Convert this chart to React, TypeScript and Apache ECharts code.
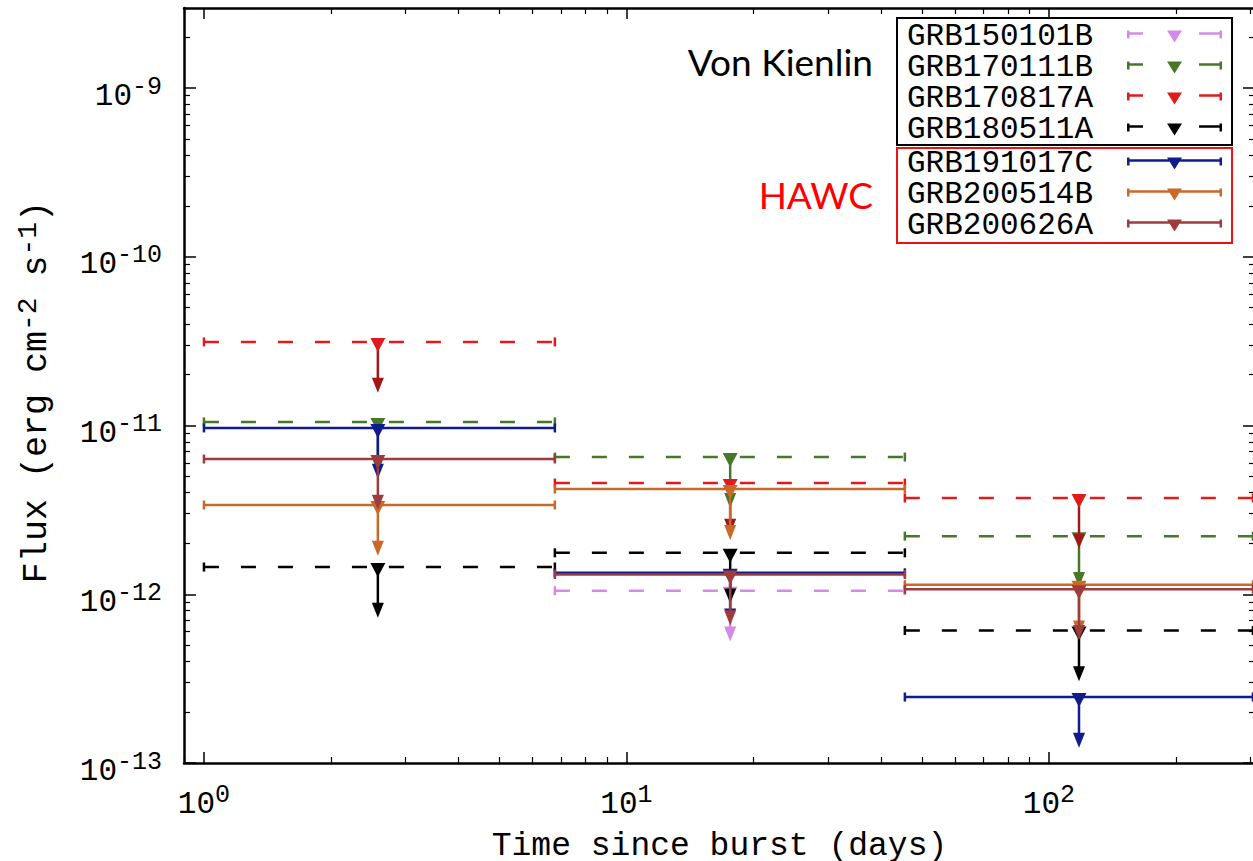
import { useEffect, useRef } from 'react';
import * as echarts from 'echarts';

// ---- data ----
const binLo = [1, 6.77, 45.6];
const binHi = [6.77, 45.6, 304];
const binMid = [2.58, 17.6, 117.8];

const grbNames = ['GRB150101B', 'GRB170111B', 'GRB170817A', 'GRB180511A', 'GRB191017C', 'GRB200514B', 'GRB200626A'];
const grb150101B = [null, 1.05e-12, null];
const grb170111B = [1.05e-11, 6.5e-12, 2.21e-12];
const grb170817A = [3.13e-11, 4.56e-12, 3.72e-12];
const grb180511A = [1.45e-12, 1.76e-12, 6.1e-13];
const grb191017C = [9.67e-12, 1.34e-12, 2.46e-13];
const grb200514B = [3.38e-12, 4.2e-12, 1.14e-12];
const grb200626A = [6.33e-12, 1.31e-12, 1.07e-12];
const fluxSets = [grb150101B, grb170111B, grb170817A, grb180511A, grb191017C, grb200514B, grb200626A];

const vonKienlinGroup = ['GRB150101B', 'GRB170111B', 'GRB170817A', 'GRB180511A'];
const hawcGroup = ['GRB191017C', 'GRB200514B', 'GRB200626A'];

const xMajorExponents = [0, 1, 2];
const yMajorExponents = [-13, -12, -11, -10, -9];
const X_MIN_DAYS = 0.897;
const X_MAX_DAYS = 307.4;
const Y_MIN_FLUX = 1e-13;
const Y_MAX_FLUX = 2.98e-9;

// ---- styles ----
const colors = ['#d58ae8', '#467828', '#e01b1b', '#000000', '#101c8e', '#c8692a', '#9e3b3d'];
const arrowColors = ['#d58ae8', '#467828', '#a01818', '#000000', '#101c8e', '#c8692a', '#9e3b3d'];
const dashedFlags = [true, true, true, true, false, false, false];
const MONO = 'Liberation Mono';

const iconDashed =
  'path://M0 0L2.5 0L2.5 8L0 8Z M0 1.75L16 1.75L16 4.25L0 4.25Z M40 0L55 0L47.5 12Z M72 1.75L95 1.75L95 4.25L72 4.25Z M92.5 0L95 0L95 8L92.5 8Z';
const iconSolid =
  'path://M0 0L2.5 0L2.5 8L0 8Z M0 1.75L95 1.75L95 4.25L0 4.25Z M40 0L55 0L47.5 12Z M92.5 0L95 0L95 8L92.5 8Z';

const lg = Math.log10;

function minorTicks(minLog: number, maxLog: number) {
  const out: number[] = [];
  for (let n = Math.floor(minLog) - 1; n <= Math.ceil(maxLog); n++) {
    for (let k = 2; k <= 9; k++) {
      const v = n + lg(k);
      if (v > minLog && v < maxLog) out.push(v);
    }
  }
  return out;
}

export default function App() {
  const ref = useRef<HTMLDivElement>(null);

  useEffect(() => {
    document.documentElement.style.margin = '0';
    document.documentElement.style.padding = '0';
    document.documentElement.style.overflow = 'hidden';
    document.body.style.margin = '0';
    document.body.style.padding = '0';
    document.body.style.overflow = 'hidden';
    if (!ref.current) return;
    const chart = echarts.init(ref.current, null, { renderer: 'svg' });

    const xMin = lg(X_MIN_DAYS);
    const xMax = lg(X_MAX_DAYS);
    const yMin = lg(Y_MIN_FLUX);
    const yMax = lg(Y_MAX_FLUX);
    const xMinor = minorTicks(xMin, xMax);
    const yMinor = minorTicks(yMin, yMax);

    const supStyle = {
      fontFamily: MONO,
      fontSize: 25,
      color: '#000',
      lineHeight: 20,
      padding: [0, 0, 18, 0],
      verticalAlign: 'middle',
    };
    const tickRich = {
      b: { fontFamily: MONO, fontSize: 31, color: '#000', lineHeight: 40, verticalAlign: 'middle' },
      s: supStyle,
    };

    const baseX = {
      type: 'value',
      min: xMin,
      max: xMax,
      splitLine: { show: false },
    };
    const baseY = {
      type: 'value',
      min: yMin,
      max: yMax,
      splitLine: { show: false },
    };

    const xAxes = [
      {
        ...baseX,
        position: 'bottom',
        axisLine: { onZero: false, lineStyle: { color: '#000', width: 2.5 } },
        axisTick: { inside: true, length: 11, customValues: xMajorExponents, lineStyle: { color: '#000', width: 1.5 } },
        axisLabel: {
          customValues: xMajorExponents,
          margin: 21,
          formatter: (v: number) => `{b|10}{s|${Math.round(v)}}`,
          rich: tickRich,
        },
        name: 'Time since burst (days)',
        nameLocation: 'middle',
        nameGap: 62,
        nameTextStyle: { fontFamily: MONO, fontSize: 33, color: '#000' },
      },
      {
        ...baseX,
        position: 'bottom',
        axisLine: { show: false, onZero: false },
        axisTick: { inside: true, length: 6, customValues: xMinor, lineStyle: { color: '#000', width: 1.2 } },
        axisLabel: { show: false },
      },
      {
        ...baseX,
        position: 'top',
        axisLine: { onZero: false, lineStyle: { color: '#000', width: 2.5 } },
        axisTick: { inside: true, length: 11, customValues: xMajorExponents, lineStyle: { color: '#000', width: 1.5 } },
        axisLabel: { show: false },
      },
      {
        ...baseX,
        position: 'top',
        axisLine: { show: false, onZero: false },
        axisTick: { inside: true, length: 6, customValues: xMinor, lineStyle: { color: '#000', width: 1.2 } },
        axisLabel: { show: false },
      },
    ];

    const yAxes = [
      {
        ...baseY,
        position: 'left',
        axisLine: { onZero: false, lineStyle: { color: '#000', width: 2.5 } },
        axisTick: { inside: true, length: 12, customValues: yMajorExponents, lineStyle: { color: '#000', width: 1.5 } },
        axisLabel: {
          customValues: yMajorExponents,
          margin: 22,
          padding: [16, 0, 0, 0],
          formatter: (v: number) => `{b|10}{s|${Math.round(v)}}`,
          rich: tickRich,
        },
        name: 'Flux (erg cm{s|-2} s{s|-1}){sp| }',
        nameLocation: 'middle',
        nameRotate: 90,
        nameGap: 127,
        nameTextStyle: {
          fontFamily: MONO,
          fontSize: 35,
          color: '#000',
          lineHeight: 40,
          rich: {
            s: { ...supStyle, fontSize: 28 },
            sp: { fontFamily: MONO, fontSize: 10, width: 13, lineHeight: 40 },
          },
        },
      },
      {
        ...baseY,
        position: 'left',
        axisLine: { show: false, onZero: false },
        axisTick: { inside: true, length: 6, customValues: yMinor, lineStyle: { color: '#000', width: 1.2 } },
        axisLabel: { show: false },
      },
      {
        ...baseY,
        position: 'right',
        axisLine: { onZero: false, lineStyle: { color: '#000', width: 2.5 } },
        axisTick: { inside: true, length: 12, customValues: yMajorExponents, lineStyle: { color: '#000', width: 1.5 } },
        axisLabel: { show: false },
      },
      {
        ...baseY,
        position: 'right',
        axisLine: { show: false, onZero: false },
        axisTick: { inside: true, length: 6, customValues: yMinor, lineStyle: { color: '#000', width: 1.2 } },
        axisLabel: { show: false },
      },
    ];

    const series = grbNames.map((name, si) => {
      const color = colors[si];
      const arrowColor = arrowColors[si];
      const dashed = dashedFlags[si];
      const data: number[][] = [];
      fluxSets[si].forEach((f, i) => {
        if (f == null) return;
        data.push([lg(binLo[i]), lg(binHi[i]), lg(binMid[i]), lg(f), lg(f / 2)]);
      });
      return {
        type: 'custom',
        name,
        xAxisIndex: 0,
        yAxisIndex: 0,
        itemStyle: { color },
        data,
        encode: { x: [0, 1, 2], y: [3, 4] },
        renderItem: (_params: any, api: any) => {
          const yv = api.value(3);
          const pL = api.coord([api.value(0), yv]);
          const pR = api.coord([api.value(1), yv]);
          const pM = api.coord([api.value(2), yv]);
          const pT = api.coord([api.value(2), api.value(4)]);
          const lw = 2.5;
          const cx = pM[0];
          const cy = pM[1];
          const ty = pT[1];
          return {
            type: 'group',
            children: [
              {
                type: 'line',
                shape: { x1: pL[0], y1: pL[1], x2: pR[0], y2: pR[1] },
                style: { stroke: color, lineWidth: lw, lineDash: dashed ? [15, 22] : null, fill: null },
              },
              {
                type: 'line',
                shape: { x1: pL[0], y1: cy - 4.5, x2: pL[0], y2: cy + 4.5 },
                style: { stroke: color, lineWidth: lw },
              },
              {
                type: 'line',
                shape: { x1: pR[0], y1: cy - 4.5, x2: pR[0], y2: cy + 4.5 },
                style: { stroke: color, lineWidth: lw },
              },
              {
                type: 'line',
                shape: { x1: cx, y1: cy, x2: cx, y2: ty - 13 },
                style: { stroke: arrowColor, lineWidth: lw },
              },
              {
                type: 'polygon',
                shape: { points: [[cx - 6, ty - 15], [cx + 6, ty - 15], [cx, ty]] },
                style: { fill: arrowColor },
              },
              {
                type: 'polygon',
                shape: { points: [[cx - 7.5, cy - 4], [cx + 7.5, cy - 4], [cx, cy + 10]] },
                style: { fill: color },
              },
            ],
          };
        },
      };
    });

    const legendCommon = {
      orient: 'vertical',
      align: 'right',
      left: 897,
      itemGap: 0,
      itemWidth: 95,
      itemHeight: 12,
      borderWidth: 2,
      selectedMode: false,
      textStyle: { fontFamily: MONO, fontSize: 31, color: '#000', lineHeight: 31, padding: [0, 29, 0, 0] },
    };
    const iconFor = (n: string) => (dashedFlags[grbNames.indexOf(n)] ? iconDashed : iconSolid);

    chart.setOption({
      animation: false,
      backgroundColor: '#fff',
      grid: { left: 184, right: -2, top: 8, bottom: 98, containLabel: false, outerBoundsMode: 'none' },
      xAxis: xAxes,
      yAxis: yAxes,
      legend: [
        {
          ...legendCommon,
          top: 18,
          padding: [3, 10, 0, 10],
          borderColor: '#000',
          data: vonKienlinGroup.map((n) => ({ name: n, icon: iconFor(n) })),
        },
        {
          ...legendCommon,
          top: 148,
          padding: [0, 10, 2, 10],
          borderColor: '#ee1111',
          data: hawcGroup.map((n) => ({ name: n, icon: iconFor(n) })),
        },
      ],
      graphic: [
        {
          type: 'text',
          x: 873,
          y: 61.5,
          style: { text: 'Von Kienlin', font: '37px Lato', fill: '#000', textAlign: 'right', textVerticalAlign: 'middle' },
        },
        {
          type: 'text',
          x: 873,
          y: 194,
          style: { text: 'HAWC', font: '37px Lato', fill: '#ff0000', textAlign: 'right', textVerticalAlign: 'middle' },
        },
      ],
      series,
    });

    return () => chart.dispose();
  }, []);

  return (
    <>
      <style>{'svg{display:block}'}</style>
      <div ref={ref} style={{ width: 1253, height: 861, overflow: 'hidden' }} />
    </>
  );
}
